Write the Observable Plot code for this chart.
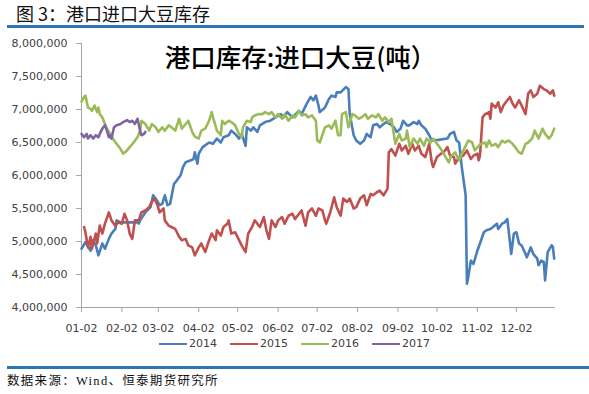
<!DOCTYPE html>
<html><head><meta charset="utf-8">
<script src="https://cdn.jsdelivr.net/npm/d3@7"></script>
<script src="https://cdn.jsdelivr.net/npm/@observablehq/plot@0.6"></script>
<style>
body{margin:0;background:#fff;width:589px;height:394px;position:relative;overflow:hidden;font-family:"DejaVu Sans",sans-serif;}
#hdr{position:absolute;left:16px;top:3px;font-size:18px;line-height:20px;font-family:"Noto Sans CJK SC";color:#111;white-space:nowrap;}
.rule{position:absolute;left:7px;width:577px;height:3px;background:#2e75b6;}
#chart{position:absolute;left:0;top:30px;}
#legend{position:absolute;top:337px;left:0;width:589px;display:flex;justify-content:center;font-size:11px;line-height:14px;color:#404040;font-family:"DejaVu Sans";}
.item{display:flex;align-items:center;margin:0 6.5px;}
.sw{display:inline-block;width:28px;height:2px;margin-right:2px;}
#cap{position:absolute;left:7px;top:373px;font-size:12.5px;line-height:16px;letter-spacing:1.3px;font-family:"Liberation Serif","Noto Sans CJK SC";color:#111;white-space:nowrap;}
</style></head>
<body>
<div id="hdr"></div>
<div class="rule" style="top:25px"></div>
<div id="chart"></div>
<div id="legend"></div>
<div class="rule" style="top:366px;width:582px"></div>
<div id="cap"></div>
<script>
const headerText = "图 3：港口进口大豆库存";
const chartTitle = "港口库存:进口大豆(吨）";
const captionText = "数据来源：Wind、恒泰期货研究所";
const years = ["2014", "2015", "2016", "2017"];
const colors = ["#4a7ebb", "#c0504d", "#9bbb59", "#8064a2"];
const xTickLabels = ["01-02","02-02","03-02","04-02","05-02","06-02","07-02","08-02","09-02","10-02","11-02","12-02"];
const yTicks = [4000000,4500000,5000000,5500000,6000000,6500000,7000000,7500000,8000000];

const d2014 = ["01-02","01-05","01-09","01-11","01-13","01-15","01-18","01-20","01-23","01-25","01-28","01-29","02-01","02-07","02-14","02-15","02-16","02-20","02-24","02-26","03-01","03-03","03-05","03-07","03-09","03-11","03-14","03-16","03-19","03-21","03-23","03-27","03-29","03-30","04-01","04-02","04-05","04-10","04-13","04-16","04-19","04-21","04-25","04-27","04-30","05-03","05-05","05-08","05-09","05-12","05-14","05-17","05-19","05-23","05-27","05-31","06-04","06-06","06-09","06-13","06-18","06-20","06-24","06-27","06-29","07-01","07-03","07-04","07-08","07-11","07-13","07-16","07-17","07-20","07-24","07-26","07-27","07-30","08-01","08-04","08-07","08-09","08-12","08-14","08-17","08-19","08-22","08-24","08-27","08-30","09-01","09-04","09-06","09-09","09-11","09-14","09-17","09-18","09-20","09-23","09-26","09-28","10-03","10-10","10-12","10-15","10-17","10-19","10-21","10-24","10-25","10-26","10-28","10-30","11-02","11-04","11-07","11-09","11-12","11-14","11-17","11-18","11-21","11-23","11-25","11-26","11-28","11-30","12-02","12-04","12-06","12-09","12-10","12-13","12-15","12-18","12-19","12-21","12-23","12-24","12-26","12-29","12-30","12-31"];
const v2014 = [4890000,4990000,4860000,5020000,4940000,4790000,4970000,4890000,5040000,5120000,5190000,5320000,5290000,5290000,5290000,5270000,5320000,5440000,5520000,5700000,5620000,5550000,5570000,5700000,5550000,5570000,5870000,5920000,6000000,6130000,6200000,6230000,6250000,6350000,6180000,6330000,6430000,6500000,6480000,6560000,6500000,6580000,6610000,6680000,6630000,6560000,6630000,6450000,6730000,6680000,6730000,6660000,6760000,6810000,6830000,6880000,6930000,6880000,6960000,6880000,6980000,6930000,7090000,7190000,7140000,7210000,7060000,6960000,7030000,7160000,7210000,7190000,7260000,7260000,7340000,7310000,6930000,6610000,6530000,6480000,6530000,6630000,6580000,6760000,6780000,6730000,6780000,6810000,6780000,6730000,6660000,6710000,6830000,6760000,6760000,6810000,6780000,6830000,6760000,6710000,6610000,6530000,6540000,6560000,6630000,6660000,6530000,6500000,6130000,5700000,4360000,4460000,4710000,4660000,4860000,4970000,5140000,5170000,5190000,5220000,5270000,5190000,5270000,5290000,5340000,5170000,4810000,5120000,5140000,4970000,4940000,4810000,4760000,4910000,4810000,4740000,4640000,4710000,4690000,4410000,4840000,4940000,4920000,4740000];

const d2015 = ["01-04","01-05","01-07","01-09","01-10","01-13","01-14","01-16","01-18","01-20","01-23","01-25","01-28","01-30","02-02","02-04","02-06","02-08","02-10","02-12","02-15","02-17","02-20","02-23","02-25","02-27","03-01","03-03","03-06","03-07","03-10","03-12","03-15","03-18","03-20","03-23","03-25","03-28","03-30","04-02","04-04","04-07","04-10","04-12","04-15","04-16","04-19","04-21","04-24","04-25","04-27","04-30","05-03","05-05","05-08","05-10","05-13","05-15","05-17","05-19","05-22","05-24","05-26","05-28","05-31","06-02","06-05","06-07","06-10","06-13","06-15","06-18","06-20","06-23","06-25","06-28","07-01","07-03","07-06","07-08","07-09","07-12","07-15","07-17","07-20","07-22","07-25","07-27","07-30","08-01","08-04","08-07","08-09","08-12","08-14","08-17","08-19","08-22","08-25","08-26","08-28","08-31","09-03","09-05","09-08","09-10","09-13","09-15","09-18","09-20","09-23","09-26","09-28","09-29","10-02","10-05","10-07","10-10","10-12","10-15","10-16","10-19","10-22","10-25","10-28","10-30","11-02","11-03","11-04","11-06","11-08","11-11","11-12","11-13","11-16","11-18","11-20","11-22","11-25","11-27","11-29","12-01","12-04","12-06","12-09","12-11","12-13","12-15","12-18","12-20","12-23","12-25","12-28","12-30","12-31"];
const v2015 = [5220000,5140000,4910000,5070000,4890000,5120000,4970000,5240000,5120000,5270000,5440000,5320000,5240000,5290000,5270000,5420000,5320000,5120000,5040000,5320000,5320000,5440000,5470000,5520000,5600000,5650000,5570000,5440000,5500000,5320000,5240000,5220000,5190000,5070000,5020000,5040000,4940000,4910000,4790000,4910000,4970000,4840000,5020000,5120000,5020000,5170000,5090000,5220000,5270000,5320000,5120000,5140000,5020000,4940000,4840000,5120000,5220000,5320000,5270000,5220000,5370000,5170000,5040000,5320000,5220000,5320000,5370000,5270000,5390000,5420000,5340000,5420000,5470000,5240000,5440000,5500000,5390000,5500000,5470000,5320000,5270000,5440000,5670000,5520000,5390000,5650000,5600000,5650000,5500000,5520000,5650000,5700000,5550000,5720000,5700000,5750000,5770000,5700000,5800000,6350000,6400000,6300000,6480000,6380000,6450000,6330000,6480000,6380000,6450000,6330000,6280000,6480000,6200000,6130000,6280000,6330000,6350000,6430000,6300000,6280000,6180000,6280000,6300000,6380000,6250000,6300000,6330000,6230000,6300000,6880000,6930000,6960000,6860000,7090000,7030000,7110000,6960000,7060000,7140000,7190000,7090000,7030000,7140000,7060000,6930000,7240000,7290000,7190000,7240000,7360000,7310000,7290000,7240000,7290000,7210000];

const d2016 = ["01-02","01-04","01-05","01-07","01-09","01-10","01-12","01-14","01-15","01-16","01-18","01-20","01-21","01-24","01-27","01-29","02-01","02-03","02-06","02-08","02-11","02-14","02-16","02-17","02-20","02-23","02-25","02-28","03-02","03-05","03-07","03-10","03-12","03-15","03-18","03-20","03-23","03-25","03-28","03-30","04-02","04-04","04-07","04-10","04-12","04-13","04-16","04-19","04-20","04-22","04-25","04-27","04-30","05-03","05-05","05-06","05-09","05-12","05-13","05-15","05-18","05-21","05-23","05-26","05-28","05-31","06-02","06-05","06-07","06-10","06-13","06-15","06-18","06-20","06-23","06-25","06-28","07-01","07-02","07-04","07-08","07-11","07-13","07-16","07-18","07-20","07-21","07-24","07-26","07-29","07-31","08-03","08-05","08-08","08-10","08-13","08-16","08-18","08-21","08-23","08-26","08-28","08-31","09-03","09-05","09-08","09-09","09-11","09-14","09-17","09-19","09-22","09-24","09-27","09-29","10-02","10-05","10-08","10-11","10-13","10-16","10-19","10-21","10-24","10-26","10-29","10-31","11-03","11-05","11-08","11-09","11-11","11-13","11-16","11-18","11-21","11-23","11-26","11-29","12-01","12-04","12-06","12-09","12-11","12-14","12-16","12-19","12-22","12-24","12-27","12-29","12-31"];
const v2016 = [7120000,7190000,7210000,7030000,7010000,6980000,7060000,6960000,7030000,6930000,6880000,6780000,6730000,6630000,6530000,6480000,6400000,6330000,6380000,6430000,6500000,6580000,6680000,6830000,6780000,6680000,6780000,6730000,6660000,6730000,6680000,6760000,6730000,6680000,6860000,6710000,6780000,6830000,6660000,6590000,6560000,6680000,6710000,6830000,6960000,6880000,6680000,6610000,6830000,6780000,6830000,6810000,6760000,6630000,6580000,6730000,6830000,6810000,6880000,6910000,6930000,6930000,6960000,6930000,6960000,6880000,6930000,6860000,6930000,6830000,6910000,6880000,6980000,6910000,6930000,6880000,6910000,6830000,6530000,6500000,6730000,6760000,6710000,6830000,6610000,6610000,6930000,6960000,6730000,6930000,6910000,6860000,6880000,6930000,6860000,6910000,6880000,6930000,6830000,6880000,6810000,6860000,6480000,6630000,6530000,6560000,6680000,6430000,6560000,6480000,6560000,6450000,6560000,6500000,6560000,6480000,6400000,6300000,6200000,6300000,6350000,6230000,6330000,6450000,6530000,6500000,6380000,6450000,6480000,6500000,6430000,6530000,6450000,6480000,6430000,6530000,6500000,6530000,6480000,6430000,6350000,6330000,6480000,6500000,6560000,6680000,6560000,6710000,6630000,6560000,6610000,6710000];

const d2017 = ["01-02","01-04","01-06","01-07","01-09","01-11","01-13","01-15","01-16","01-18","01-20","01-21","01-23","01-24","01-25","01-27","01-29","02-01","02-03","02-06","02-08","02-10","02-12","02-14","02-16","02-17","02-19","02-20"];
const v2017 = [6630000,6580000,6630000,6560000,6610000,6560000,6610000,6580000,6630000,6710000,6760000,6710000,6580000,6610000,6560000,6730000,6760000,6780000,6810000,6840000,6810000,6830000,6780000,6860000,6680000,6610000,6630000,6660000];

const seriesDates = [d2014, d2015, d2016, d2017];
const seriesValues = [v2014, v2015, v2016, v2017];

const parseMD = s => new Date(Date.UTC(2001, +s.slice(0, 2) - 1, +s.slice(3, 5)));
const rows = [];
years.forEach((y, k) => seriesDates[k].forEach((d, i) => rows.push({date: parseMD(d), value: seriesValues[k][i], year: y})));
const xStart = parseMD("01-02");
const xEnd = new Date(Date.UTC(2002, 0, 1));
const xTicks = xTickLabels.map(parseMD);

const chart = Plot.plot({
  width: 589, height: 305,
  marginTop: 13, marginBottom: 28, marginLeft: 81, marginRight: 34,
  style: {fontFamily: "DejaVu Sans", fontSize: "11px", color: "#404040", background: "transparent", overflow: "visible"},
  x: {type: "utc", domain: [xStart, xEnd]},
  y: {domain: [4000000, 8000000]},
  color: {domain: years, range: colors},
  marks: [
    Plot.ruleY([4000000], {stroke: "#a6a6a6"}),
    Plot.ruleX([xStart], {stroke: "#a6a6a6"}),
    Plot.axisX(xTicks, {tickFormat: d3.utcFormat("%m-%d"), tickSize: 5, tickPadding: 12, stroke: "#a6a6a6", fill: "#404040", label: null}),
    Plot.axisY(yTicks, {tickFormat: d3.format(","), tickSize: 5, tickPadding: 9, stroke: "#a6a6a6", fill: "#404040", label: null}),
    Plot.line(rows, {x: "date", y: "value", z: "year", stroke: "year", strokeWidth: 2.6, strokeLinejoin: "round", strokeLinecap: "round"}),
    Plot.text([chartTitle], {frameAnchor: "top", dy: 15, dx: -18, fontSize: 25.5, fontFamily: "Noto Sans CJK SC", fontWeight: 500, fill: "#000", lineAnchor: "middle"})
  ]
});
document.getElementById("chart").appendChild(chart);

document.getElementById("hdr").textContent = headerText;
document.getElementById("cap").textContent = captionText;
const lg = document.getElementById("legend");
years.forEach((y, k) => {
  const it = document.createElement("div"); it.className = "item";
  const sw = document.createElement("span"); sw.className = "sw"; sw.style.background = colors[k];
  const tx = document.createElement("span"); tx.textContent = y;
  it.appendChild(sw); it.appendChild(tx); lg.appendChild(it);
});
</script>
</body></html>
